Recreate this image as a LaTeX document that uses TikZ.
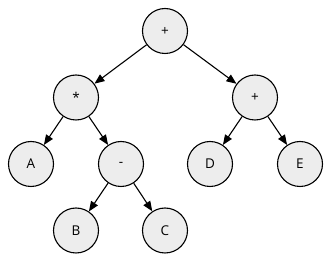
\documentclass[tikz,border=0pt]{standalone}
\usepackage{fontspec}
\setmainfont{Open Sans}
\usetikzlibrary{arrows.meta}
\begin{document}
\begin{tikzpicture}[x=1pt,y=-1pt,
  tnode/.style={circle,draw=black,line width=1.1pt,fill=black!7,minimum size=45pt,inner sep=0pt,font=\fontsize{13.5}{15}\selectfont},
  tedge/.style={line width=1.1pt,-{Triangle[length=10pt,width=8pt]}}]
\useasboundingbox (0,0) rectangle (330,264);
\node[tnode] (r) at (165,31) {+};
\node[tnode] (m) at (76,97.5) {*};
\node[tnode] (p) at (255,97.5) {+};
\node[tnode] (a) at (31,164) {A};
\node[tnode] (s) at (121,164) {-};
\node[tnode] (d) at (210,164) {D};
\node[tnode] (e) at (300,164) {E};
\node[tnode] (b) at (76,230.5) {B};
\node[tnode] (c) at (165,230.5) {C};
\draw[tedge] (r) -- (m);
\draw[tedge] (r) -- (p);
\draw[tedge] (m) -- (a);
\draw[tedge] (m) -- (s);
\draw[tedge] (s) -- (b);
\draw[tedge] (s) -- (c);
\draw[tedge] (p) -- (d);
\draw[tedge] (p) -- (e);
\end{tikzpicture}
\end{document}
